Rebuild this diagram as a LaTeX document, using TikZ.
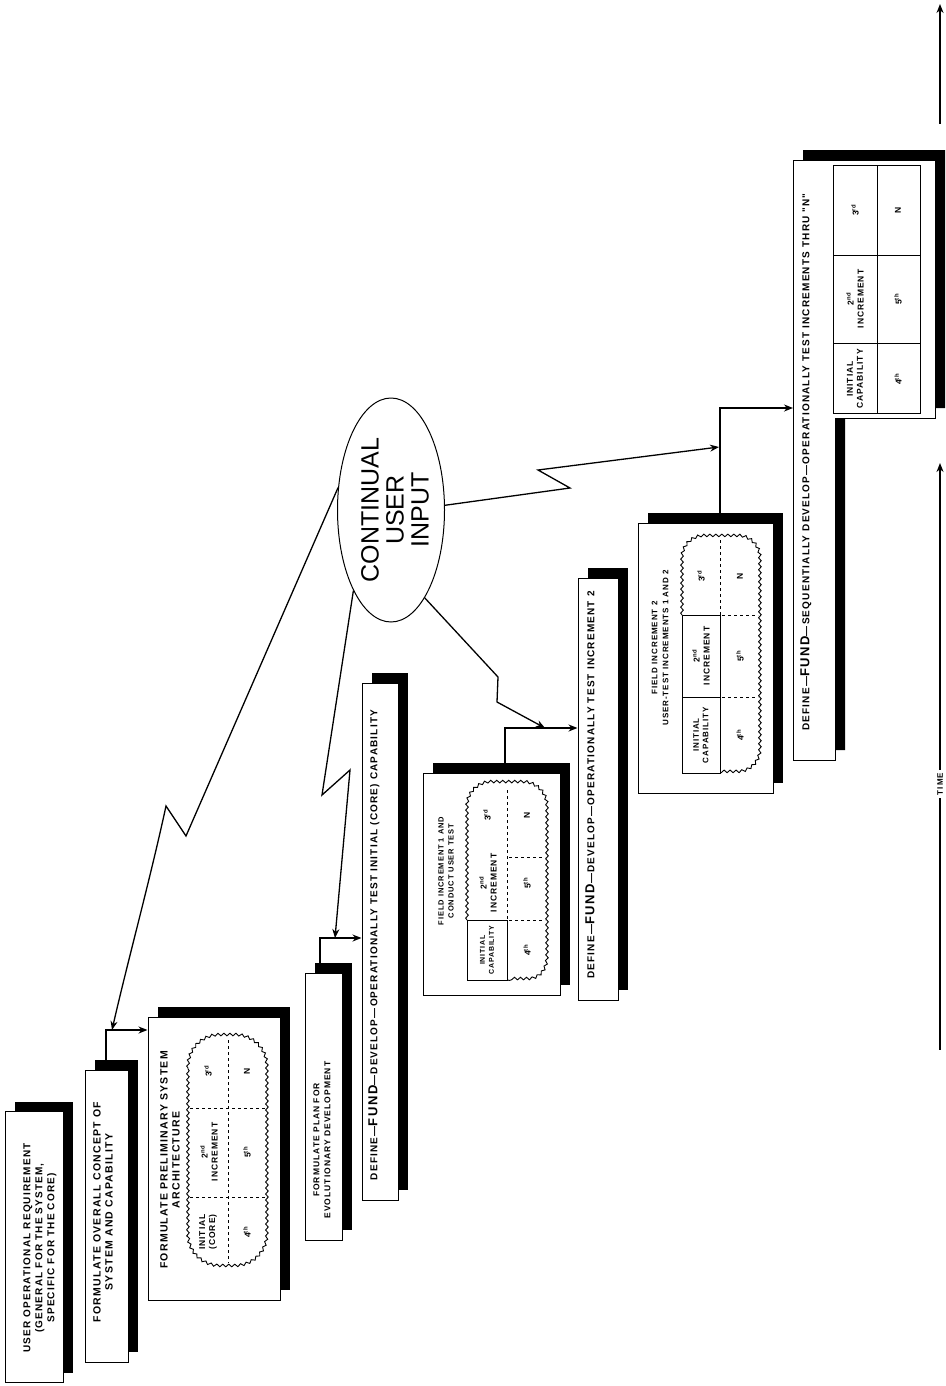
\documentclass[tikz,border=0pt]{standalone}
\usepackage{fontspec}
\usetikzlibrary{arrows.meta,shapes.geometric,shadows,decorations.pathmorphing}
\newfontfamily\boxfont[LetterSpace=12]{Liberation Sans}
\newfontfamily\bigfont{Liberation Sans}
\newcommand\fund{{\fontsize{13}{13}\selectfont FUND}}

\begin{document}
\begin{tikzpicture}[x=1pt, y=-1pt,
  >={Stealth[length=9pt,width=7pt]},
  box/.style={draw, line width=1pt, fill=white, inner sep=0pt,
    drop shadow={shadow xshift=10pt, shadow yshift=10pt, fill=black, opacity=1}},
  txt/.style={rotate=90, align=center, inner sep=0pt, font=\boxfont\bfseries\fontsize{10}{12}\selectfont},
  cell/.style={rotate=90, align=center, inner sep=0pt, font=\boxfont\bfseries\fontsize{8.5}{10}\selectfont},
  link/.style={line width=1.8pt},
  bolt/.style={line width=1.3pt},
  wavy/.style={line width=0.9pt, decorate, decoration={snake, segment length=6pt, amplitude=1.3pt}},
  grid/.style={line width=1pt, dashed},
  axis/.style={line width=1.3pt}]
  \useasboundingbox (0,0) rectangle (945,1386);

  \node[box, minimum width=58pt, minimum height=271pt] (b1) at (34,1247) {};
  \node[txt] (t1) at (40,1248) {USER OPERATIONAL REQUIREMENT\\(GENERAL FOR THE SYSTEM,\\SPECIFIC FOR THE CORE)};

  \node[box, minimum width=43pt, minimum height=292pt] (b2) at (106.5,1216) {};
  \node[txt, font=\boxfont\bfseries\fontsize{10.5}{12}\selectfont] (t2) at (103,1212) {FORMULATE OVERALL CONCEPT OF\\SYSTEM AND CAPABILITY};

  \node[box, minimum width=132pt, minimum height=283pt] (b3) at (214,1158.5) {};
  \node[txt, font=\boxfont\bfseries\fontsize{10.5}{12}\selectfont] (t3) at (170,1160) {FORMULATE PRELIMINARY SYSTEM\\ARCHITECTURE};
  \draw[wavy] (188,1068) .. controls (188,1050) and (202,1036) .. (220,1036) -- (235,1036)
    .. controls (253,1036) and (267,1050) .. (267,1068) -- (267,1235)
    .. controls (267,1253) and (253,1267) .. (235,1267) -- (220,1267)
    .. controls (202,1267) and (188,1253) .. (188,1235) -- cycle;
  \draw[grid] (228,1040) -- (228,1263);
  \draw[grid] (190,1108) -- (265,1108);
  \draw[grid] (190,1197) -- (265,1197);
  \node[cell] (c3a) at (208,1071) {3\textsuperscript{rd}};
  \node[cell] (c3b) at (209,1152) {2\textsuperscript{nd}\\INCREMENT};
  \node[cell] (c3c) at (208,1232) {INITIAL\\(CORE)};
  \node[cell] (c3d) at (247,1071) {N};
  \node[cell] (c3e) at (247,1152) {5\textsuperscript{th}};
  \node[cell] (c3f) at (247,1232) {4\textsuperscript{th}};

  \node[box, minimum width=37pt, minimum height=267pt] (b4) at (323.5,1106.5) {};
  \node[txt, font=\boxfont\bfseries\fontsize{8.5}{11}\selectfont] (t4) at (322,1140) {FORMULATE PLAN FOR\\EVOLUTIONARY DEVELOPMENT};

  \node[box, minimum width=36pt, minimum height=517pt] (b5) at (380,941.5) {};
  \node[txt] (t5) at (374,945) {DEFINE—\fund—DEVELOP—OPERATIONALLY TEST INITIAL (CORE) CAPABILITY};

  \node[box, minimum width=137pt, minimum height=222pt] (b6) at (491.5,884) {};
  \node[txt, font=\boxfont\bfseries\fontsize{7.5}{10}\selectfont] (t6) at (446,871) {FIELD INCREMENT 1 AND\\CONDUCT USER TEST};
  \draw[line width=1pt] (467,920) rectangle (507,980);
  \draw[wavy] (467,920) -- (467,807) .. controls (467,794) and (478,783) .. (491,783) -- (523,783)
    .. controls (536,783) and (547,794) .. (547,807) -- (547,958)
    .. controls (547,970) and (540,980) .. (528,980) -- (507,980);
  \draw[grid] (507,790) -- (507,920);
  \draw[grid] (509,857) -- (545,857);
  \draw[grid] (509,920) -- (545,920);
  \node[cell] (c6a) at (487,815) {3\textsuperscript{rd}};
  \node[cell] (c6b) at (488,883) {2\textsuperscript{nd}\\INCREMENT};
  \node[cell, font=\boxfont\bfseries\fontsize{7}{9}\selectfont] (c6c) at (487,950) {INITIAL\\CAPABILITY};
  \node[cell] (c6d) at (527,815) {N};
  \node[cell] (c6e) at (527,883) {5\textsuperscript{th}};
  \node[cell] (c6f) at (527,950) {4\textsuperscript{th}};

  \node[box, minimum width=40pt, minimum height=422pt] (b7) at (598,789) {};
  \node[txt] (t7) at (590,785) {DEFINE—\fund—DEVELOP—OPERATIONALLY TEST INCREMENT 2};

  \node[box, minimum width=135pt, minimum height=270pt] (b8) at (705.5,658) {};
  \node[txt, font=\boxfont\bfseries\fontsize{8}{11}\selectfont] (t8) at (660,648) {FIELD INCREMENT 2\\USER-TEST INCREMENTS 1 AND 2};
  \draw[line width=1pt] (682,615) rectangle (720,773);
  \draw[line width=1pt] (682,697) -- (720,697);
  \draw[wavy] (682,615) -- (682,559) .. controls (682,547) and (692,537) .. (704,537) -- (738,537)
    .. controls (750,537) and (760,547) .. (760,559) -- (760,751)
    .. controls (760,763) and (750,773) .. (738,773) -- (720,773);
  \draw[grid] (720,540) -- (720,615);
  \draw[grid] (722,615) -- (758,615);
  \draw[grid] (722,697) -- (758,697);
  \node[cell] (c8a) at (701,576) {3\textsuperscript{rd}};
  \node[cell] (c8b) at (701,656) {2\textsuperscript{nd}\\INCREMENT};
  \node[cell, font=\boxfont\bfseries\fontsize{8}{9.5}\selectfont] (c8c) at (701,735) {INITIAL\\CAPABILITY};
  \node[cell] (c8d) at (740,576) {N};
  \node[cell] (c8e) at (740,656) {5\textsuperscript{th}};
  \node[cell] (c8f) at (740,735) {4\textsuperscript{th}};

  \draw[box] (793,160) -- (935,160) -- (935,418) -- (835,418) -- (835,760) -- (793,760) -- cycle;
  \coordinate (b9in) at (793,408);
  \node[txt] (t9) at (806,462) {DEFINE—\fund—SEQUENTIALLY DEVELOP—OPERATIONALLY TEST INCREMENTS THRU "N"};
  \draw[line width=1pt] (833,165) rectangle (920,413);
  \draw[line width=1pt] (877,165) -- (877,413);
  \draw[line width=1pt] (833,255) -- (920,255);
  \draw[line width=1pt] (833,343) -- (920,343);
  \node[cell] (c9a) at (855,210) {3\textsuperscript{rd}};
  \node[cell] (c9b) at (855,299) {2\textsuperscript{nd}\\INCREMENT};
  \node[cell] (c9c) at (855,379) {INITIAL\\CAPABILITY};
  \node[cell] (c9d) at (898,210) {N};
  \node[cell] (c9e) at (898,299) {5\textsuperscript{th}};
  \node[cell] (c9f) at (898,379) {4\textsuperscript{th}};

  \coordinate (j1) at (106,1030);
  \coordinate (l1) at (112,1030);
  \coordinate (j2) at (320,938);
  \coordinate (l2) at (335,938);
  \coordinate (j3) at (505,728);
  \coordinate (l3) at (545,728);
  \coordinate (j4) at (720,408);
  \coordinate (l4) at (719,447);

  \draw[link,->] (b2.north -| j1) -- (j1) -- (b3.west |- j1);
  \draw[link,->] (b4.north -| j2) -- (j2) -- (b5.west |- j2);
  \draw[link,->] (b6.north -| j3) -- (j3) -- (b7.west |- j3);
  \draw[link,->] (b8.north -| j4) -- (j4) -- (b9in);

  \node[ellipse, draw, line width=1pt, fill=white, minimum width=107pt, minimum height=224pt, inner sep=0pt] (cui) at (391,510) {};
  \node[rotate=90, align=center, inner sep=0pt, font=\bigfont\fontsize{25}{25}\selectfont] (cuit) at (395,510) {CONTINUAL\\USER\\INPUT};

  \draw[bolt,->] (cui.157) -- (186,836) -- (166,806) .. controls (150,880) and (128,960) .. (l1);
  \draw[bolt,->] (cui.245) -- (322,795) -- (350,770) -- (l2);
  \draw[bolt,->] (cui.291) -- (498,677) -- (497,702) -- (l3);
  \draw[bolt,->] (cui.5) -- (570,488) -- (538,470) -- (l4);

  \node[rotate=90, inner sep=3pt, font=\boxfont\bfseries\fontsize{8}{8}\selectfont] (time) at (940,784) {TIME};
  \coordinate (timeup) at (940,463);
  \coordinate (timedown) at (940,1050);
  \coordinate (topfoot) at (940,124);
  \coordinate (toptip) at (940,4);
  \draw[axis,->] (time.east) -- (timeup);
  \draw[axis] (time.west) -- (timedown);
  \draw[axis,->] (topfoot) -- (toptip);
\end{tikzpicture}
\end{document}
